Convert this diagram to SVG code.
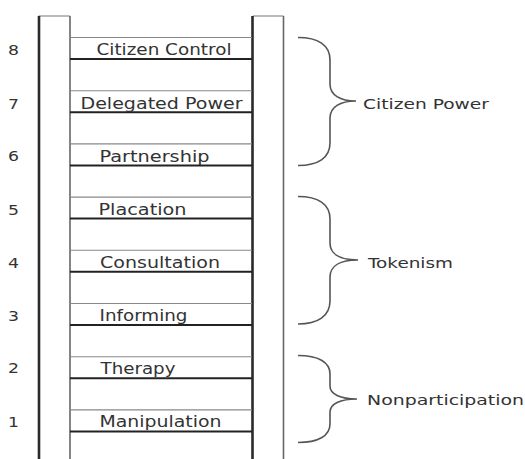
<svg xmlns="http://www.w3.org/2000/svg" width="525" height="459" viewBox="0 0 525 459">
<style>
text{font-family:"DejaVu Sans","Liberation Sans",sans-serif;fill:#333}
.lbl{font-size:15px}
.num{font-size:14px}
.grp{font-size:14.5px}
.rail-in{stroke:#2a2a2a;stroke-width:2.6;fill:none}
.rail-out{stroke:#666;stroke-width:1.6;fill:none}
.rail-top{stroke:#777;stroke-width:1.2;fill:none}
.rung-top{stroke:#888;stroke-width:1.1}
.rung-bot{stroke:#222;stroke-width:2}
.brace{stroke:#555;stroke-width:1.6;fill:none}
</style>
<rect width="525" height="459" fill="#fff"/>
<g id="ladder">
<path class="rail-top" d="M38.5,16 H70 M253,16 H283.5"/>
<line class="rail-in" x1="39" y1="16" x2="39" y2="459"/>
<line class="rail-out" x1="70" y1="16" x2="70" y2="459"/>
<line class="rail-in" x1="252.5" y1="16" x2="252.5" y2="459"/>
<line class="rail-out" x1="283.5" y1="16" x2="283.5" y2="459"/>
</g>
<g id="rung8"><line class="rung-top" x1="70" y1="37.5" x2="252" y2="37.5"/><line class="rung-bot" x1="70" y1="59" x2="252" y2="59"/><text class="num" x="8" y="54.5" textLength="11" lengthAdjust="spacingAndGlyphs">8</text><text class="lbl" x="96.5" y="55" textLength="135" lengthAdjust="spacingAndGlyphs">Citizen Control</text></g>
<g id="rung7"><line class="rung-top" x1="70" y1="90.7" x2="252" y2="90.7"/><line class="rung-bot" x1="70" y1="112.2" x2="252" y2="112.2"/><text class="num" x="8" y="108.5" textLength="11" lengthAdjust="spacingAndGlyphs">7</text><text class="lbl" x="80.5" y="108.5" textLength="162" lengthAdjust="spacingAndGlyphs">Delegated Power</text></g>
<g id="rung6"><line class="rung-top" x1="70" y1="143.9" x2="252" y2="143.9"/><line class="rung-bot" x1="70" y1="165.4" x2="252" y2="165.4"/><text class="num" x="8" y="161" textLength="11" lengthAdjust="spacingAndGlyphs">6</text><text class="lbl" x="99.5" y="161.5" textLength="110" lengthAdjust="spacingAndGlyphs">Partnership</text></g>
<g id="rung5"><line class="rung-top" x1="70" y1="197.1" x2="252" y2="197.1"/><line class="rung-bot" x1="70" y1="218.6" x2="252" y2="218.6"/><text class="num" x="8" y="214.5" textLength="11" lengthAdjust="spacingAndGlyphs">5</text><text class="lbl" x="98.5" y="215" textLength="88" lengthAdjust="spacingAndGlyphs">Placation</text></g>
<g id="rung4"><line class="rung-top" x1="70" y1="250.3" x2="252" y2="250.3"/><line class="rung-bot" x1="70" y1="271.8" x2="252" y2="271.8"/><text class="num" x="8" y="267.5" textLength="11" lengthAdjust="spacingAndGlyphs">4</text><text class="lbl" x="100" y="268" textLength="120" lengthAdjust="spacingAndGlyphs">Consultation</text></g>
<g id="rung3"><line class="rung-top" x1="70" y1="303.5" x2="252" y2="303.5"/><line class="rung-bot" x1="70" y1="325" x2="252" y2="325"/><text class="num" x="8" y="320.5" textLength="11" lengthAdjust="spacingAndGlyphs">3</text><text class="lbl" x="99.5" y="321" textLength="88" lengthAdjust="spacingAndGlyphs">Informing</text></g>
<g id="rung2"><line class="rung-top" x1="70" y1="356.7" x2="252" y2="356.7"/><line class="rung-bot" x1="70" y1="378.2" x2="252" y2="378.2"/><text class="num" x="8" y="373" textLength="11" lengthAdjust="spacingAndGlyphs">2</text><text class="lbl" x="100.5" y="373.5" textLength="75" lengthAdjust="spacingAndGlyphs">Therapy</text></g>
<g id="rung1"><line class="rung-top" x1="70" y1="409.9" x2="252" y2="409.9"/><line class="rung-bot" x1="70" y1="431.4" x2="252" y2="431.4"/><text class="num" x="8" y="427" textLength="11" lengthAdjust="spacingAndGlyphs">1</text><text class="lbl" x="99.5" y="427" textLength="122" lengthAdjust="spacingAndGlyphs">Manipulation</text></g>
<g id="connectors">
<path class="brace" d="M298,37.5 C318,37.5 330,45 330,60 L330,84 C330,95 340,101 356,101 C340,101 330,107 330,118 L330,143 C330,158 318,165.5 298,165.5"/>
<path class="brace" d="M298,196.5 C318,196.5 330,204 330,219 L330,243 C330,254 340,260 358,260 C340,260 330,266 330,277 L330,301 C330,316 318,324 298,324"/>
<path class="brace" d="M298,355.5 C318,355.5 330,362 330,374 L330,386 C330,394 340,399 357,399 C340,399 330,404 330,412 L330,424 C330,436 318,442.5 298,442.5"/>
</g>
<g id="group-citizen-power"><text class="grp" x="363" y="108.5" textLength="126" lengthAdjust="spacingAndGlyphs">Citizen Power</text></g>
<g id="group-tokenism"><text class="grp" x="368" y="267.5" textLength="85" lengthAdjust="spacingAndGlyphs">Tokenism</text></g>
<g id="group-nonparticipation"><text class="grp" x="367" y="404.5" textLength="157" lengthAdjust="spacingAndGlyphs">Nonparticipation</text></g>
</svg>
